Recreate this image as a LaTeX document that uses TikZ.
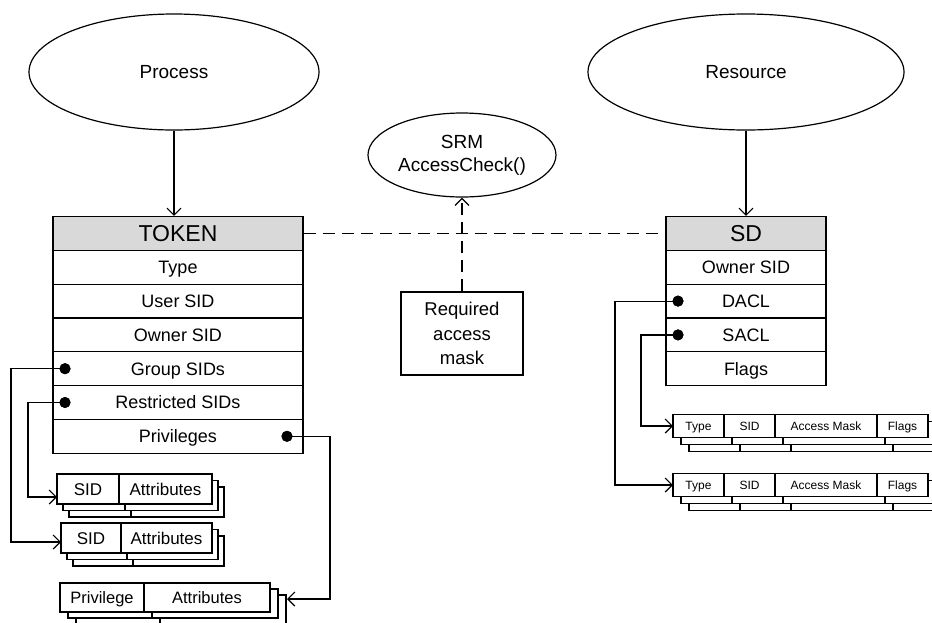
\documentclass[tikz,border=0pt]{standalone}
\usepackage{fontspec}
\setmainfont{Liberation Sans}
\usetikzlibrary{arrows.meta,shapes.geometric}
\definecolor{hdrgray}{RGB}{217,217,217}
\tikzset{
  lw/.style={line width=1.3pt},
  oval/.style={ellipse, draw, line width=1.2pt, inner sep=0pt, align=center, font=\fontsize{19}{23}\selectfont},
  hdr/.style={draw, line width=1.3pt, fill=hdrgray, inner sep=0pt, minimum height=33.8pt, text height=16.5pt, text depth=0pt, font=\fontsize{23}{26}\selectfont},
  row/.style={draw, line width=1.3pt, fill=white, inner sep=0pt, minimum height=33.8pt, text height=12.9pt, text depth=0pt, font=\fontsize{18}{20}\selectfont},
  cell/.style={draw, line width=1.3pt, fill=white, inner sep=0pt, text height=12.2pt, text depth=0pt, font=\fontsize{17}{20}\selectfont},
  acell/.style={draw, line width=1.3pt, fill=white, inner sep=0pt, minimum height=23pt, text height=8.6pt, text depth=0pt, font=\fontsize{12}{14}\selectfont},
  reqbox/.style={draw, line width=1.3pt, fill=white, inner sep=0pt, align=center, font=\fontsize{18.5}{24.5}\selectfont},
  conn/.style={line width=1.2pt, -{Straight Barb[length=7pt,width=14pt]}},
  dot/.style={circle, fill=black, inner sep=0pt, minimum size=11pt},
  dashln/.style={line width=1.2pt, dash pattern=on 12pt off 7pt},
}
\begin{document}
\begin{tikzpicture}[x=1pt,y=-1pt]
\clip (0,0) rectangle (932,622);
\useasboundingbox (0,0) rectangle (932,622);

% ellipses
\node[oval, minimum width=290pt, minimum height=116pt] (proc) at (174,72) {Process};
\node[oval, minimum width=316pt, minimum height=116pt] (res) at (746,72) {Resource};
\node[oval, minimum width=188pt, minimum height=84pt] (srm) at (462,155) {SRM\\AccessCheck()};

% TOKEN table
\node[hdr, minimum width=250pt] (tok) at (178,233.5) {TOKEN};
\node[row, minimum width=250pt] (ttype) at (178,267.3) {Type};
\node[row, minimum width=250pt] (tuser) at (178,301.1) {User SID};
\node[row, minimum width=250pt] (towner) at (178,334.9) {Owner SID};
\node[row, minimum width=250pt] (tgroup) at (178,368.7) {Group SIDs};
\node[row, minimum width=250pt] (trestr) at (178,402.5) {Restricted SIDs};
\node[row, minimum width=250pt] (tpriv) at (178,436.3) {Privileges};

% SD table
\node[hdr, minimum width=160pt] (sd) at (746,233.5) {SD};
\node[row, minimum width=160pt] (sowner) at (746,267.3) {Owner SID};
\node[row, minimum width=160pt] (sdacl) at (746,301.1) {DACL};
\node[row, minimum width=160pt] (ssacl) at (746,334.9) {SACL};
\node[row, minimum width=160pt] (sflags) at (746,368.7) {Flags};

% Required access mask
\node[reqbox, minimum width=122pt, minimum height=83pt] (req) at (462,333.5) {Required\\access\\mask};

% dots
\node[dot] (dg) at (65,368.7) {};
\node[dot] (dr) at (65,402.5) {};
\node[dot] (dp) at (287,436.3) {};
\node[dot] (dd) at (678,301.1) {};
\node[dot] (ds) at (678,334.9) {};

% SID stack 1
\foreach \k in {2,1}{
  \begin{scope}[shift={(6*\k,6.5*\k)}]
    \draw[lw, fill=white] (57,474) rectangle (212,504);
    \draw[lw] (119,474) -- (119,504);
  \end{scope}
}
\node[cell, minimum width=62pt, minimum height=30pt] (s1a) at (88,489) {SID};
\node[cell, minimum width=93pt, minimum height=30pt] (s1b) at (165.5,489) {Attributes};

% SID stack 2
\foreach \k in {2,1}{
  \begin{scope}[shift={(6*\k,6.5*\k)}]
    \draw[lw, fill=white] (61,523) rectangle (212,553);
    \draw[lw] (121,523) -- (121,553);
  \end{scope}
}
\node[cell, minimum width=60pt, minimum height=30pt] (s2a) at (91,538) {SID};
\node[cell, minimum width=91pt, minimum height=30pt] (s2b) at (166.5,538) {Attributes};

% Privilege stack
\foreach \k in {2,1}{
  \begin{scope}[shift={(8*\k,6*\k)}]
    \draw[lw, fill=white] (60,583) rectangle (270,612);
    \draw[lw] (144,583) -- (144,612);
  \end{scope}
}
\node[cell, minimum width=84pt, minimum height=29pt, text height=11.8pt, font=\fontsize{16.5}{19}\selectfont] (p1a) at (102,597.5) {Privilege};
\node[cell, minimum width=126pt, minimum height=29pt, text height=11.8pt, font=\fontsize{16.5}{19}\selectfont] (p1b) at (207,597.5) {Attributes};

% ACL stacks
\foreach \yy/\nm in {426/a, 485/b}{
  \foreach \k in {2,1}{
    \begin{scope}[shift={(8*\k,7*\k)}]
      \draw[lw, fill=white] (673,\yy-11.5) rectangle (928,\yy+11.5);
      \foreach \xx in {724,775,877} \draw[lw] (\xx,\yy-11.5) -- (\xx,\yy+11.5);
    \end{scope}
  }
  \node[acell, minimum width=51pt] (\nm type) at (698.5,\yy) {Type};
  \node[acell, minimum width=51pt] (\nm sid) at (749.5,\yy) {SID};
  \node[acell, minimum width=102pt] (\nm mask) at (826,\yy) {Access Mask};
  \node[acell, minimum width=51pt] (\nm flags) at (902.5,\yy) {Flags};
}

% arrow target coordinates
\coordinate (s1in) at (57,497);
\coordinate (s2in) at (61,542);
\coordinate (pin) at (287,599);
\coordinate (a1in) at (673,426);
\coordinate (a2in) at (673,485);

% connectors
\draw[conn] (proc.south) -- (proc.south |- tok.north);
\draw[conn] (res.south) -- (res.south |- sd.north);
\draw[dashln] (tok.east) -- (sd.west);
\draw[dashln, -{Straight Barb[length=7pt,width=14pt]}] (req.north) -- (srm.south);

\draw[conn] (dg.center) -- (11,368.7) |- (s2in);
\draw[conn] (dr.center) -- (28,402.5) |- (s1in);
\draw[conn] (dp.center) -- (330,436.3) |- (pin);
\draw[conn] (dd.center) -- (615,301.1) |- (a2in);
\draw[conn] (ds.center) -- (641,334.9) |- (a1in);

% redraw dots on top
\node[dot] at (dg) {};
\node[dot] at (dr) {};
\node[dot] at (dp) {};
\node[dot] at (dd) {};
\node[dot] at (ds) {};
\end{tikzpicture}
\end{document}
